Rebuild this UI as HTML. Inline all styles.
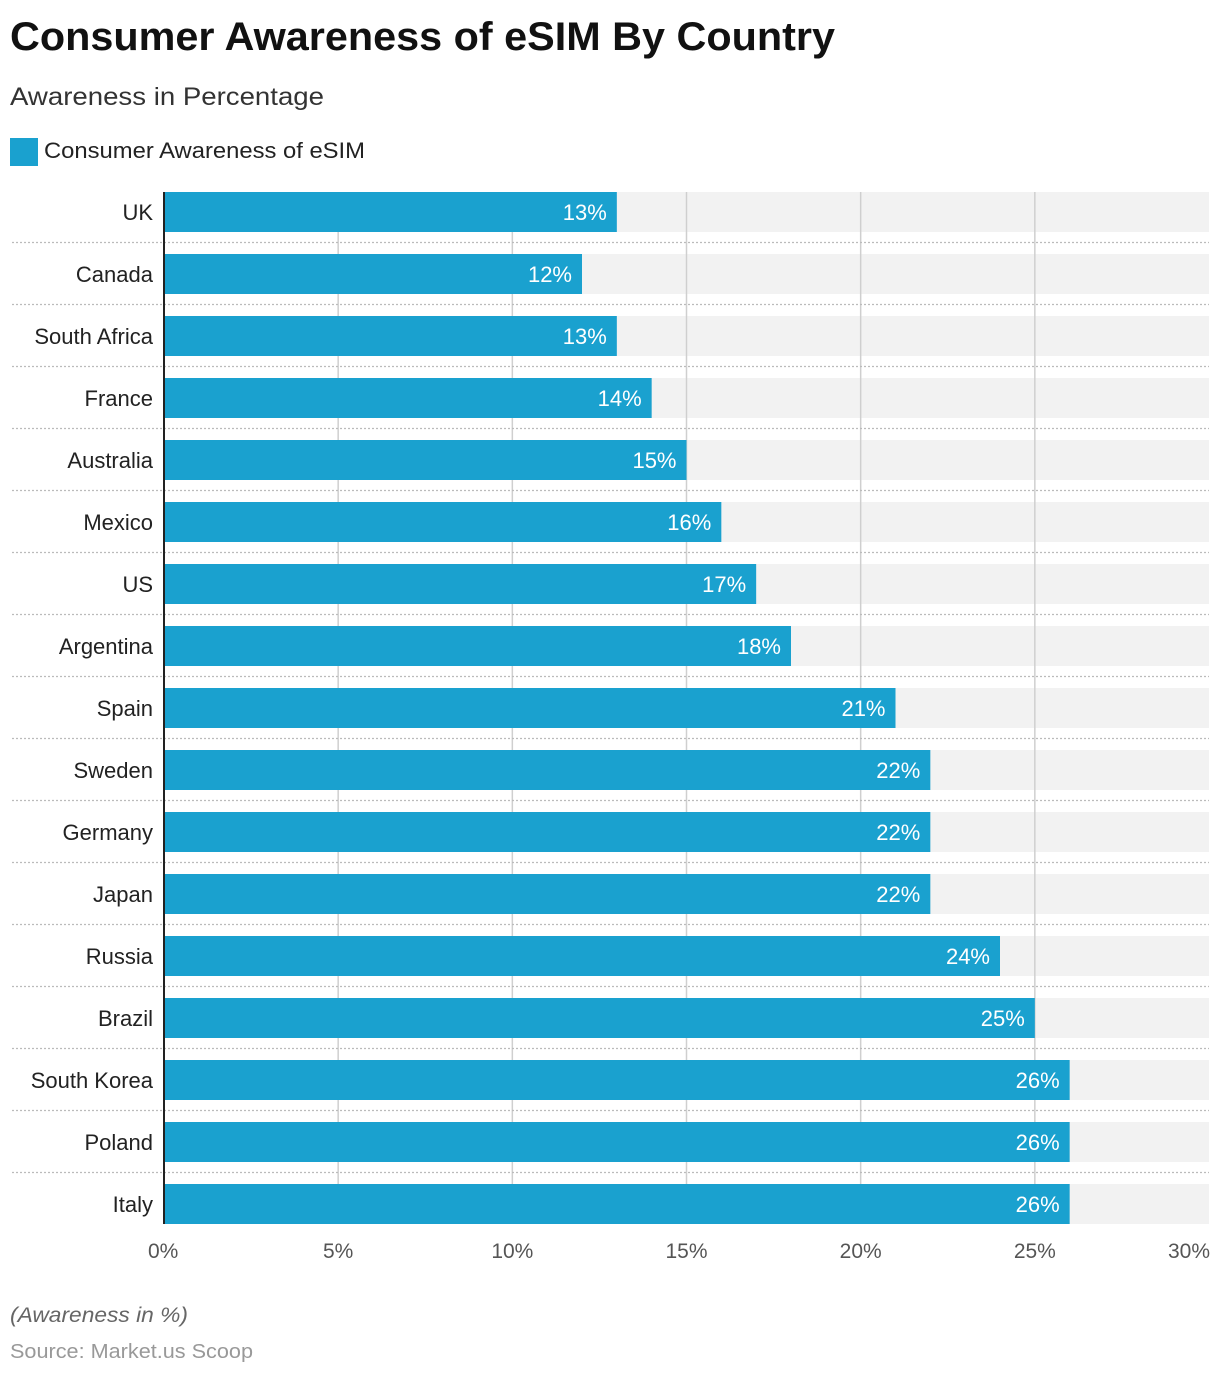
<!DOCTYPE html><html><head><meta charset="utf-8"><style>body{margin:0;background:#fff;font-family:"Liberation Sans",Arial,sans-serif}</style></head><body>
<svg width="1220" height="1376" xmlns="http://www.w3.org/2000/svg" font-family="Liberation Sans, Arial, sans-serif">
<text x="10" y="50" font-size="40" font-weight="bold" fill="#111" textLength="825" lengthAdjust="spacingAndGlyphs">Consumer Awareness of eSIM By Country</text>
<text x="10" y="105" font-size="25" fill="#333" textLength="314" lengthAdjust="spacingAndGlyphs">Awareness in Percentage</text>
<rect x="10" y="138" width="28" height="28" fill="#1aa1cf"/>
<text x="44" y="158" font-size="22" fill="#222" textLength="321" lengthAdjust="spacingAndGlyphs">Consumer Awareness of eSIM</text>
<g id="rows"></g>
<text x="10" y="1322" font-size="21" font-style="italic" fill="#666" textLength="178" lengthAdjust="spacingAndGlyphs">(Awareness in %)</text>
<text x="10" y="1358" font-size="20" fill="#999" textLength="243" lengthAdjust="spacingAndGlyphs">Source: Market.us Scoop</text>
</svg>
<script>
const d=[["UK",13],["Canada",12],["South Africa",13],["France",14],["Australia",15],["Mexico",16],["US",17],["Argentina",18],["Spain",21],["Sweden",22],["Germany",22],["Japan",22],["Russia",24],["Brazil",25],["South Korea",26],["Poland",26],["Italy",26]];
const x0=164,sc=(1209-164)/30;let s="";
d.forEach((r,i)=>{const y=192+62*i;s+=`<rect x="${x0}" y="${y}" width="${1209-x0}" height="40" fill="#f2f2f2"/>`;});
for(let k=1;k<=5;k++){const x=x0+k*5*sc;s+=`<line x1="${x}" y1="192" x2="${x}" y2="1224" stroke="#cfcfcf" stroke-width="1.5"/>`;}
for(let i=0;i<16;i++){const y=242.5+62*i;s+=`<line x1="12" y1="${y}" x2="1209" y2="${y}" stroke="#bbb" stroke-width="1.2" stroke-dasharray="2,2"/>`;}
d.forEach((r,i)=>{const y=192+62*i,w=r[1]*sc;s+=`<rect x="${x0+1}" y="${y}" width="${w-1}" height="40" fill="#1aa1cf"/>`;
s+=`<text x="${x0+w-10}" y="${y+28}" font-size="22" fill="#fff" text-anchor="end">${r[1]}%</text>`;
s+=`<text x="153" y="${y+28}" font-size="22" fill="#222" text-anchor="end">${r[0]}</text>`;});
s+=`<line x1="164" y1="192" x2="164" y2="1224" stroke="#222" stroke-width="2"/>`;
for(let k=0;k<=6;k++){const x=x0+k*5*sc;const a=k==0?"start":(k==6?"end":"middle");const xx=k==0?148:(k==6?1210:x);s+=`<text x="${xx}" y="1258" font-size="21" fill="#555" text-anchor="${a}">${k*5}%</text>`;}
document.getElementById("rows").innerHTML=s;
</script>
</body></html>
